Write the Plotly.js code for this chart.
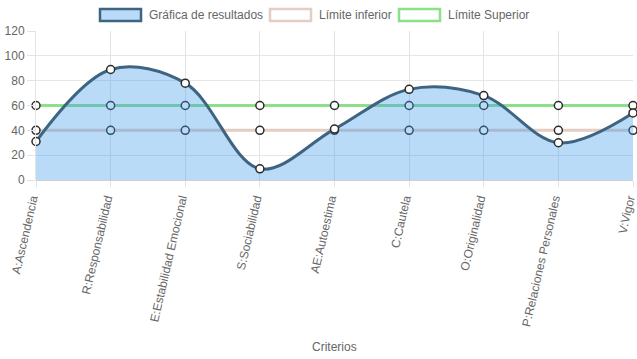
<!DOCTYPE html>
<html>
<head>
<meta charset="utf-8">
<script src="https://cdn.plot.ly/plotly-3.0.1.min.js"></script>
<style>html,body{margin:0;padding:0;background:#fff;}#chart{width:637px;height:359px;}</style>
</head>
<body>
<div id="chart"></div>
<script>
const categories = ["A:Ascendencia","R:Responsabilidad","E:Estabilidad Emocional","S:Sociabilidad","AE:Autoestima","C:Cautela","O:Originalidad","P:Relaciones Personales","V:Vigor"];
const resultados = [31, 89, 78, 9, 41, 73, 68, 30, 54];
const limiteInferior = [40, 40, 40, 40, 40, 40, 40, 40, 40];
const limiteSuperior = [60, 60, 60, 60, 60, 60, 60, 60, 60];
const yTicks = [0, 20, 40, 60, 80, 100, 120];
const seriesNames = ["Gráfica de resultados", "Límite inferior", "Límite Superior"];
const axisTitle = "Criterios";

const FONT = "Liberation Sans, Arial, Helvetica, sans-serif";
const markerStyle = {size: 8, color: "#ffffff", line: {color: "#2b2b2b", width: 1.5}};

const traces = [
  {x: categories, y: limiteInferior, name: seriesNames[1], type: "scatter", mode: "lines+markers",
   line: {color: "#e4cdc2", width: 3}, marker: markerStyle, hoverinfo: "none", cliponaxis: false},
  {x: categories, y: limiteSuperior, name: seriesNames[2], type: "scatter", mode: "lines+markers",
   line: {color: "#8de08a", width: 3}, marker: markerStyle, hoverinfo: "none", cliponaxis: false},
  {x: categories, y: resultados, name: seriesNames[0], type: "scatter", mode: "lines+markers",
   line: {color: "#3e6482", width: 3, shape: "spline", smoothing: 1.0},
   fill: "tozeroy", fillcolor: "rgba(54,152,235,0.35)",
   marker: markerStyle, hoverinfo: "none", cliponaxis: false}
];

const legendItems = [
  {x0: 100, x1: 141, fill: "rgba(54,152,235,0.35)", border: "#3e6482", tx: 147},
  {x0: 270, x1: 311, fill: "#ffffff", border: "#e4cdc2", tx: 317},
  {x0: 399, x1: 440, fill: "#ffffff", border: "#8de08a", tx: 446}
];
const W = 637, H = 359, ML = 36, MR = 4, MT = 31, MB = 179;
const plotW = W - ML - MR, plotH = H - MT - MB;
function px2x(px){ return (px - ML) / plotW; }
function py2y(py){ return (H - MB - py) / plotH; }

const layout = {
  width: W, height: H,
  margin: {l: ML, r: MR, t: MT, b: MB},
  paper_bgcolor: "#ffffff", plot_bgcolor: "#ffffff",
  showlegend: false,
  font: {family: FONT, size: 12, color: "#666666"},
  xaxis: {
    type: "category", range: [0, categories.length - 1],
    tickangle: -77, tickfont: {family: FONT, size: 12, color: "#666"},
    ticklabelshift: -4,
    showgrid: true, gridcolor: "#e3e3e3", gridwidth: 1,
    ticks: "outside", ticklen: 6, tickcolor: "#e3e3e3",
    showline: false, zeroline: false,
    automargin: false
  },
  yaxis: {
    range: [0, 120], tickvals: yTicks, ticktext: yTicks.map(String),
    tickfont: {family: FONT, size: 12, color: "#666"},
    showgrid: true, gridcolor: "#e6e6e6", gridwidth: 1,
    ticks: "outside", ticklen: 8, tickcolor: "#e3e3e3",
    zeroline: true, zerolinecolor: "#cfcfcf", zerolinewidth: 1,
    showline: true, linecolor: "#e3e3e3", linewidth: 1,
    automargin: false
  },
  shapes: [],
  annotations: []
};
legendItems.forEach((it, i) => {
  layout.shapes.push({type: "rect", xref: "paper", yref: "paper",
    x0: px2x(it.x0), x1: px2x(it.x1), y0: py2y(21), y1: py2y(9),
    fillcolor: it.fill, line: {color: it.border, width: 2.5}, layer: "above"});
  layout.annotations.push({xref: "paper", yref: "paper", x: px2x(it.tx), y: py2y(15),
    xanchor: "left", yanchor: "middle", showarrow: false, text: seriesNames[i],
    font: {family: FONT, size: 12, color: "#666"}});
});
layout.annotations.push({xref: "paper", yref: "paper", x: 0.5, y: py2y(347), xanchor: "center", yanchor: "middle",
  showarrow: false, text: axisTitle, font: {family: FONT, size: 12, color: "#666"}});
Plotly.newPlot("chart", traces, layout, {displayModeBar: false, staticPlot: true});
</script>
</body>
</html>
